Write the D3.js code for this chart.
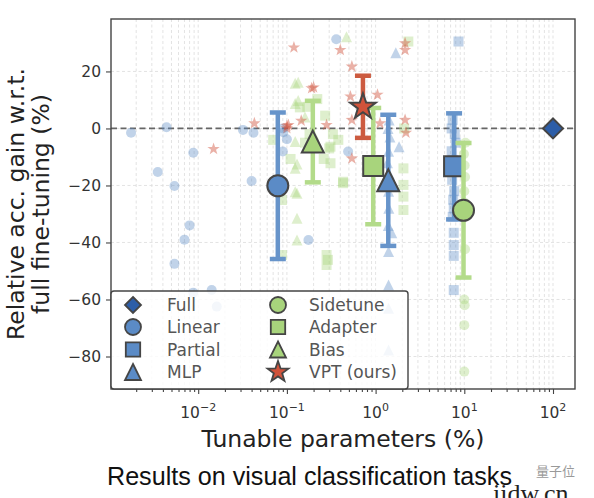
<!DOCTYPE html>
<html><head><meta charset="utf-8">
<script src="https://cdn.jsdelivr.net/npm/d3@7"></script>
<style>body{margin:0;background:#fff}svg{display:block}</style>
</head><body><svg id="c" width="594" height="498"></svg>
<script>
// ---------------- data ----------------
const methods = ["Full","Linear","Partial","MLP","Sidetune","Adapter","Bias","VPT (ours)"];
const meanParams = [100, 0.079, 7.67, 1.39, 9.8, 0.94, 0.196, 0.72];
const meanValues = [0, -20.1, -13.3, -18.2, -28.7, -13.2, -4.6, 7.6];
const errValues  = [0, 25.7, 18.6, 23.0, 23.6, 20.4, 14.3, 10.9];

const linearParams = [0.00175,0.0044,0.0088,0.0035,0.0054,0.008,0.007,0.0054,0.0088,0.0142,0.0162,0.032,0.042,0.040,0.09,0.09,0.10,0.091,0.175,0.36,0.49];
const linearValues = [-1.5,0.4,-8.5,-15.3,-20.2,-34,-39,-47.5,-57.6,-56.7,-62.5,-0.5,-1.5,-18.4,0,-8.1,-3.8,-1.3,-39.1,31.3,-8.1];

const partialParams = [8.6,7.6,7.6,7.6,7.6,7.4,7.2,7.8,8.0,7.2,7.5,7.9,7.3,7.7,7.5,7.6,7.4];
const partialValues = [30.5,-36.6,-40.9,-44.7,-56.7,3,0,-2,-5,-8,-11,-15,-18,-22,-25,-28,-31];

const mlpParams = [1.69,1.84,1.52,1.40,1.40,1.40,1.40,1.42,1.38,1.45,1.40,1.36,1.43,1.40,1.41,1.39];
const mlpValues = [26.6,-6.4,-36.6,-43.2,-54.9,-63.1,-77.7,3,0,-3,-8,-12,-16,-22,-28,-34];

const sidetuneParams = [10.2,10.0,10.1,10.0,10.0,10.3,9.9,10.1,10.2,10.0,10.0,10.1];
const sidetuneValues = [-42.4,-60,-62,-69,-85.3,-5,-9,-13,-17,-22,-26,-31];

const adapterParams = [2.34,2.06,0.43,0.31,0.43,2.06,2.06,2.06,0.28,0.28,0.14,0.22,0.27,0.11,0.26,0.088,0.088,0.29,0.07,0.33,0.38,0.18,2.1,0.3,0.17,0.16,0.31];
const adapterValues = [30.5,-14,-18.7,-12.2,-19.2,-19.8,-23.9,-28.6,-44.4,-47.9,7.4,10.3,4.5,-10.7,-10.7,-25.1,-44.4,-46.1,-4,-2,-4,-2,0,-7,7.6,-5,-6.4];

const biasParams = [0.47,0.134,0.134,0.124,0.124,0.124,0.124,0.124,0.13,0.13,0.13,0.13,0.2,0.16];
const biasValues = [32.2,16.2,9.8,15.9,8.8,-4.6,-14,-22.2,-12.5,-22.7,-31.5,-39.1,-2,4];

const vptParams = [0.0149,0.043,0.12,0.10,0.19,0.104,0.145,0.10,0.28,0.40,0.54,0.20,0.52,1.05,0.54,1.12,2.15,2.15,2.15,2.2,0.54];
const vptValues = [-7.2,1.8,28.4,0.9,14.1,1.2,2.7,0.1,1.2,27.5,21.7,14.4,11.2,11.8,3,1.8,29.9,27.5,3,-1.5,-10.5];

const xTicks = [0.01,0.1,1,10,100];
const xTickExps = ["\u22122","\u22121","0","1","2"];
const yTicks = [-80,-60,-40,-20,0,20];

// ---------------- styles ----------------
const BLUE="#5b8bc6", FULL="#2d5ea8", GREEN="#a8d47c", RED="#d1533b";
const EB_BLUE="#6794ca", EB_GREEN="#b3db8a", EB_RED="#cc5b40";
const EDGE="#454545";
const shapes = {"Full":"diamond","Linear":"circle","Partial":"square","MLP":"triangle","Sidetune":"circle","Adapter":"square","Bias":"triangle","VPT (ours)":"star"};
const fills = {"Full":FULL,"Linear":BLUE,"Partial":BLUE,"MLP":BLUE,"Sidetune":GREEN,"Adapter":GREEN,"Bias":GREEN,"VPT (ours)":RED};
const ebCols = {"Full":FULL,"Linear":EB_BLUE,"Partial":EB_BLUE,"MLP":EB_BLUE,"Sidetune":EB_GREEN,"Adapter":EB_GREEN,"Bias":EB_GREEN,"VPT (ours)":EB_RED};

function markerPath(type, s){
  switch(type){
    case "circle": return `M${s},0A${s},${s} 0 1,1 ${-s},0A${s},${s} 0 1,1 ${s},0Z`;
    case "square": return `M${-s},${-s}H${s}V${s}H${-s}Z`;
    case "triangle": return `M0,${-s}L${s},${s}L${-s},${s}Z`;
    case "diamond": return `M0,${-s}L${s},0L0,${s}L${-s},0Z`;
    case "star": {
      const p=[]; for(let i=0;i<10;i++){const r=i%2? s*0.40 : s; const a=-Math.PI/2+i*Math.PI/5; p.push([(r*Math.cos(a)).toFixed(2),(r*Math.sin(a)).toFixed(2)]);}
      return "M"+p.map(d=>d.join(",")).join("L")+"Z";
    }
  }
}
const smallSize = {circle:5, square:5, triangle:5.5, star:6.5, diamond:5};
const bigSize = {circle:10.5, square:10, triangle:11, star:13.5, diamond:10};
const legSize = {circle:8, square:7.2, triangle:8, star:11, diamond:8};

// ---------------- layout ----------------
const svg = d3.select("#c");
const L=111, R=575, T=19, B=389;
const x = d3.scaleLog().domain([Math.pow(10,-2.983), Math.pow(10,2.248)]).range([L,R]);
const y = d3.scaleLinear().domain([-91.4, 38.4]).range([B,T]);

// minor ticks
const minor=[];
for(let e=-3;e<=2;e++) for(let m=2;m<=9;m++){const v=m*Math.pow(10,e); if(x(v)>L && x(v)<R) minor.push(v);}

const grid = svg.append("g");
grid.selectAll(".vg").data(minor.concat(xTicks)).join("line")
  .attr("x1",d=>x(d)).attr("x2",d=>x(d)).attr("y1",T).attr("y2",B)
  .attr("stroke","#dcdcdc").attr("stroke-width",0.8).attr("stroke-dasharray","3,2.5");
grid.selectAll(".hg").data(yTicks).join("line")
  .attr("x1",L).attr("x2",R).attr("y1",d=>y(d)).attr("y2",d=>y(d))
  .attr("stroke","#dcdcdc").attr("stroke-width",0.8).attr("stroke-dasharray","3,2.5");

// zero line
svg.append("line").attr("x1",L).attr("x2",R).attr("y1",y(0)).attr("y2",y(0))
  .attr("stroke","#666").attr("stroke-width",1.8).attr("stroke-dasharray","6,3.5");

// small scatter points
const small = [
  ["Linear", linearParams, linearValues],
  ["Partial", partialParams, partialValues],
  ["MLP", mlpParams, mlpValues],
  ["Sidetune", sidetuneParams, sidetuneValues],
  ["Adapter", adapterParams, adapterValues],
  ["Bias", biasParams, biasValues],
  ["VPT (ours)", vptParams, vptValues]
];
const sg = svg.append("g");
small.forEach(([name, ps, vs])=>{
  const sh = shapes[name];
  sg.append("g").selectAll("path").data(ps.map((p,i)=>[p,vs[i]])).join("path")
    .attr("d", markerPath(sh, smallSize[sh]))
    .attr("transform", d=>`translate(${x(d[0])},${y(d[1])})`)
    .attr("fill", fills[name]).attr("fill-opacity", name==="VPT (ours)"?0.45:0.38);
});

// error bars + mean markers
const mg = svg.append("g");
methods.forEach((name,i)=>{
  const cx = x(meanParams[i]), cy = y(meanValues[i]);
  if(errValues[i]>0){
    const y1=y(meanValues[i]+errValues[i]), y2=y(meanValues[i]-errValues[i]);
    const g = mg.append("g").attr("stroke", ebCols[name]).attr("stroke-width",4.5);
    g.append("line").attr("x1",cx).attr("x2",cx).attr("y1",y1).attr("y2",y2);
    g.append("line").attr("x1",cx-8).attr("x2",cx+8).attr("y1",y1).attr("y2",y1);
    g.append("line").attr("x1",cx-8).attr("x2",cx+8).attr("y1",y2).attr("y2",y2);
  }
  const sh = shapes[name];
  mg.append("path").attr("d", markerPath(sh, bigSize[sh]))
    .attr("transform",`translate(${cx},${cy})`)
    .attr("fill", fills[name]).attr("stroke", EDGE).attr("stroke-width",2);
});

// axes
const FONT = "DejaVu Sans, sans-serif";
const xAxis = svg.append("g").attr("transform",`translate(0,${B})`)
  .call(d3.axisBottom(x).tickValues(xTicks).tickFormat("").tickSize(5).tickSizeOuter(0));
svg.append("g").attr("transform",`translate(0,${B})`)
  .call(d3.axisBottom(x).tickValues(minor).tickFormat("").tickSize(3).tickSizeOuter(0))
  .call(g=>g.select(".domain").remove());
xAxis.select(".domain").remove();
const yAxis = svg.append("g").attr("transform",`translate(${L},0)`)
  .call(d3.axisLeft(y).tickValues(yTicks).tickSize(5).tickPadding(5).tickSizeOuter(0));
yAxis.select(".domain").remove();
svg.selectAll(".tick line").attr("stroke","#444").attr("stroke-width",1.1);
yAxis.selectAll("text").attr("font-family",FONT).attr("font-size",15.5).attr("fill","#333");

// x tick labels with superscripts
const xl = svg.append("g").attr("font-family",FONT).attr("fill","#333");
xTicks.forEach((v,i)=>{
  const t = xl.append("text").attr("x",x(v)).attr("y",418).attr("text-anchor","middle").attr("font-size",15.5);
  t.append("tspan").text("10");
  t.append("tspan").attr("font-size",11).attr("dy",-7).text(xTickExps[i]);
});

// frame
svg.append("rect").attr("x",L).attr("y",T).attr("width",R-L).attr("height",B-T)
  .attr("fill","none").attr("stroke","#444").attr("stroke-width",1.4);

// legend
const lg = svg.append("g");
lg.append("rect").attr("x",111).attr("y",291).attr("width",297).attr("height",98).attr("rx",3)
  .attr("fill","#fff").attr("fill-opacity",0.82).attr("stroke","#444").attr("stroke-width",1.4);
const rowsY=[305,327,349.5,372];
methods.forEach((name,i)=>{
  const col = i<4?0:1, row=i%4;
  const mx = col===0?133:278, tx = col===0?167:309;
  const sh = shapes[name];
  lg.append("path").attr("d",markerPath(sh,legSize[sh])).attr("transform",`translate(${mx},${rowsY[row]})`)
    .attr("fill",fills[name]).attr("stroke",EDGE).attr("stroke-width",1.8);
  lg.append("text").attr("x",tx).attr("y",rowsY[row]+6).attr("font-family",FONT).attr("font-size",17)
    .attr("fill","#555").text(name);
});

// axis labels
svg.append("text").attr("x",(L+R)/2).attr("y",447).attr("text-anchor","middle")
  .attr("font-family",FONT).attr("font-size",23.5).attr("fill","#222").text("Tunable parameters (%)");
const yl = svg.append("g").attr("transform",`translate(0,${(T+B)/2}) rotate(-90)`)
  .attr("font-family",FONT).attr("font-size",23.5).attr("fill","#222").attr("text-anchor","middle");
yl.append("text").attr("x",0).attr("y",24).text("Relative acc. gain w.r.t.");
yl.append("text").attr("x",0).attr("y",49).text("full fine-tuning (%)");

// caption
svg.append("text").attr("x",107).attr("y",485).attr("font-family","Liberation Sans, Arial, sans-serif")
  .attr("font-size",26).attr("fill","#111").attr("textLength",405).attr("lengthAdjust","spacingAndGlyphs")
  .text("Results on visual classification tasks");
// watermark
svg.append("text").attr("x",536).attr("y",476).attr("font-family","Noto Sans CJK SC, sans-serif")
  .attr("font-size",13).attr("fill","#999").text("量子位");
svg.append("text").attr("x",493).attr("y",502).attr("font-family","Liberation Serif, serif")
  .attr("font-size",26).attr("fill","#222").text("iidw.cn");
</script></body></html>
